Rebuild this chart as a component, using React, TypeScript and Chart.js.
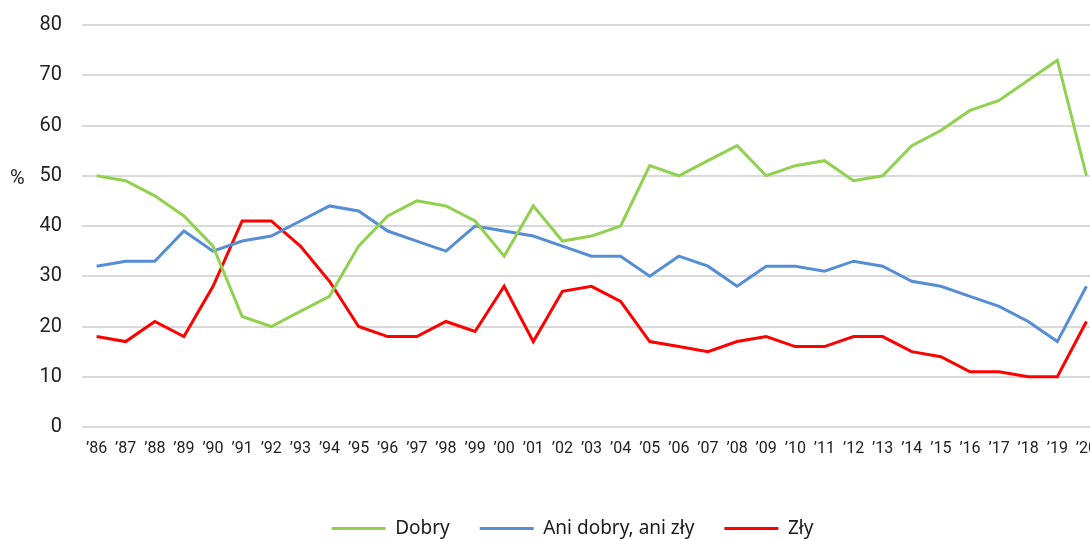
import React, { useEffect, useRef } from "react";
import { Chart, registerables } from "chart.js";

Chart.register(...registerables);

const years = [
  "’86", "’87", "’88", "’89", "’90", "’91", "’92", "’93", "’94", "’95", "’96", "’97",
  "’98", "’99", "’00", "’01", "’02", "’03", "’04", "’05", "’06", "’07", "’08", "’09",
  "’10", "’11", "’12", "’13", "’14", "’15", "’16", "’17", "’18", "’19", "’20",
];

const dobry = [
  50, 49, 46, 42, 36, 22, 20, 23, 26, 36, 42, 45, 44, 41, 34, 44, 37, 38, 40, 52, 50,
  53, 56, 50, 52, 53, 49, 50, 56, 59, 63, 65, 69, 73, 50,
];

const aniDobry = [
  32, 33, 33, 39, 35, 37, 38, 41, 44, 43, 39, 37, 35, 40, 39, 38, 36, 34, 34, 30, 34,
  32, 28, 32, 32, 31, 33, 32, 29, 28, 26, 24, 21, 17, 28,
];

const zly = [
  18, 17, 21, 18, 28, 41, 41, 36, 29, 20, 18, 18, 21, 19, 28, 17, 27, 28, 25, 17, 16,
  15, 17, 18, 16, 16, 18, 18, 15, 14, 11, 11, 10, 10, 21,
];

const seriesNames = ["Dobry", "Ani dobry, ani zły", "Zły"];
const seriesColors = ["#92D050", "#558ED5", "#FF0000"];
const yTicks = [0, 10, 20, 30, 40, 50, 60, 70, 80];

export default function App() {
  const ref = useRef<HTMLCanvasElement | null>(null);

  useEffect(() => {
    if (!ref.current) return;
    const percentPlugin = {
      id: "percentLabel",
      afterLayout(chart: any) {
        const lg = chart.legend;
        if (lg) {
          lg.left += 22;
          lg.right += 22;
        }
      },
      afterDraw(chart: any) {
        const { ctx } = chart;
        const y = chart.scales.y.getPixelForValue(50);
        ctx.save();
        ctx.fillStyle = "#222";
        ctx.font = "20px Roboto";
        ctx.textAlign = "left";
        ctx.textBaseline = "middle";
        ctx.fillText("%", 10, y + 3);
        ctx.restore();
      },
    };
    const data = [dobry, aniDobry, zly];
    const chart = new Chart(ref.current, {
      type: "line",
      data: {
        labels: years,
        datasets: data.map((d, i) => ({
          label: seriesNames[i],
          data: d,
          borderColor: seriesColors[i],
          backgroundColor: seriesColors[i],
          borderWidth: 3,
          pointRadius: 0,
          tension: 0,
          fill: false,
        })),
      },
      options: {
        animation: false,
        responsive: false,
        maintainAspectRatio: false,
        layout: { padding: { top: 25, left: 0, right: 0, bottom: 0 } },
        plugins: {
          tooltip: { enabled: false },
          legend: {
            position: "bottom",
            labels: {
              usePointStyle: true,
              pointStyle: "line",
              pointStyleWidth: 54,
              boxHeight: 18,
              padding: 30,
              color: "#1a1a1a",
              font: { family: "'Noto Sans'", size: 19 },
            },
          },
        },
        scales: {
          x: {
            offset: true,
            afterFit(scale: any) {
              scale.height = 62;
              scale.paddingLeft = 0;
              scale.paddingRight = 0;
            },
            grid: { display: false, drawTicks: false },
            border: { display: false },
            ticks: {
              color: "#222",
              font: { family: "Roboto", size: 16 },
              padding: 12,
              maxRotation: 0,
              autoSkip: false,
            },
          },
          y: {
            min: 0,
            max: 80,
            afterFit(scale: any) {
              scale.width = 82;
              scale.paddingTop = 0;
              scale.paddingBottom = 0;
            },
            afterBuildTicks(scale: any) {
              scale.ticks = yTicks.map((v) => ({ value: v }));
            },
            grid: { color: "#d9d9d9", lineWidth: 2, drawTicks: false },
            border: { display: false },
            ticks: {
              color: "#222",
              font: { family: "Roboto", size: 20 },
              padding: 20,
            },
          },
        },
      },
      plugins: [percentPlugin],
    });
    return () => chart.destroy();
  }, []);

  return (
    <div
      style={{
        position: "fixed",
        left: 0,
        top: 0,
        width: 1090,
        height: 539,
        overflow: "hidden",
        background: "#fff",
      }}
    >
      <canvas ref={ref} width={1101} height={548} style={{ display: "block" }} />
    </div>
  );
}
